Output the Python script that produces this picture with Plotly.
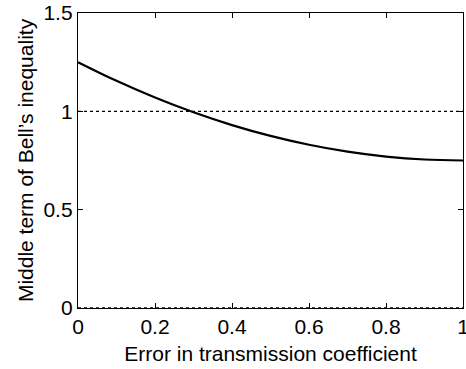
import plotly.graph_objects as go

x_vals = [0.0, 0.1, 0.2, 0.3, 0.4, 0.5, 0.6, 0.7, 0.8, 0.9, 1.0]
y_vals = [1.25, 1.155, 1.07, 0.995, 0.93, 0.875, 0.83, 0.795, 0.77, 0.755, 0.75]
ref_levels = [1.0, 0.0]
x_ticks = [0, 0.2, 0.4, 0.6, 0.8, 1]
x_tick_text = ["0", "0.2", "0.4", "0.6", "0.8", "1"]
y_ticks = [0, 0.5, 1, 1.5]
y_tick_text = ["0", "0.5", "1", "1.5"]

fig = go.Figure()
for lvl in ref_levels:
    fig.add_trace(go.Scatter(x=[0, 1], y=[lvl, lvl], mode="lines",
                             line=dict(color="black", width=1.3, dash="dot"),
                             showlegend=False, hoverinfo="skip"))
fig.add_trace(go.Scatter(x=x_vals, y=y_vals, mode="lines",
                         line=dict(color="black", width=2.2, shape="spline"),
                         showlegend=False))

font = dict(family="Liberation Sans, Arial, sans-serif", size=21, color="black")
axis_common = dict(showgrid=False, zeroline=False, showline=True, linecolor="black",
                   linewidth=1.3, mirror="ticks", ticks="inside", ticklen=5,
                   tickcolor="black", tickwidth=1, tickfont=font,
                   ticklabeloverflow="allow", automargin=False)
fig.update_xaxes(range=[0, 1], tickvals=x_ticks, ticktext=x_tick_text,
                 title=dict(text="Error in transmission coefficient", font=font, standoff=8),
                 **axis_common)
fig.update_yaxes(range=[0, 1.5], tickvals=y_ticks, ticktext=y_tick_text,
                 title=dict(text="Middle term of Bell\u2019s inequality", font=font, standoff=4),
                 **axis_common)
fig.update_layout(width=466, height=369, margin=dict(l=78, r=3, t=13, b=61),
                  paper_bgcolor="white", plot_bgcolor="white", font=font)
fig.write_html("out.html")
